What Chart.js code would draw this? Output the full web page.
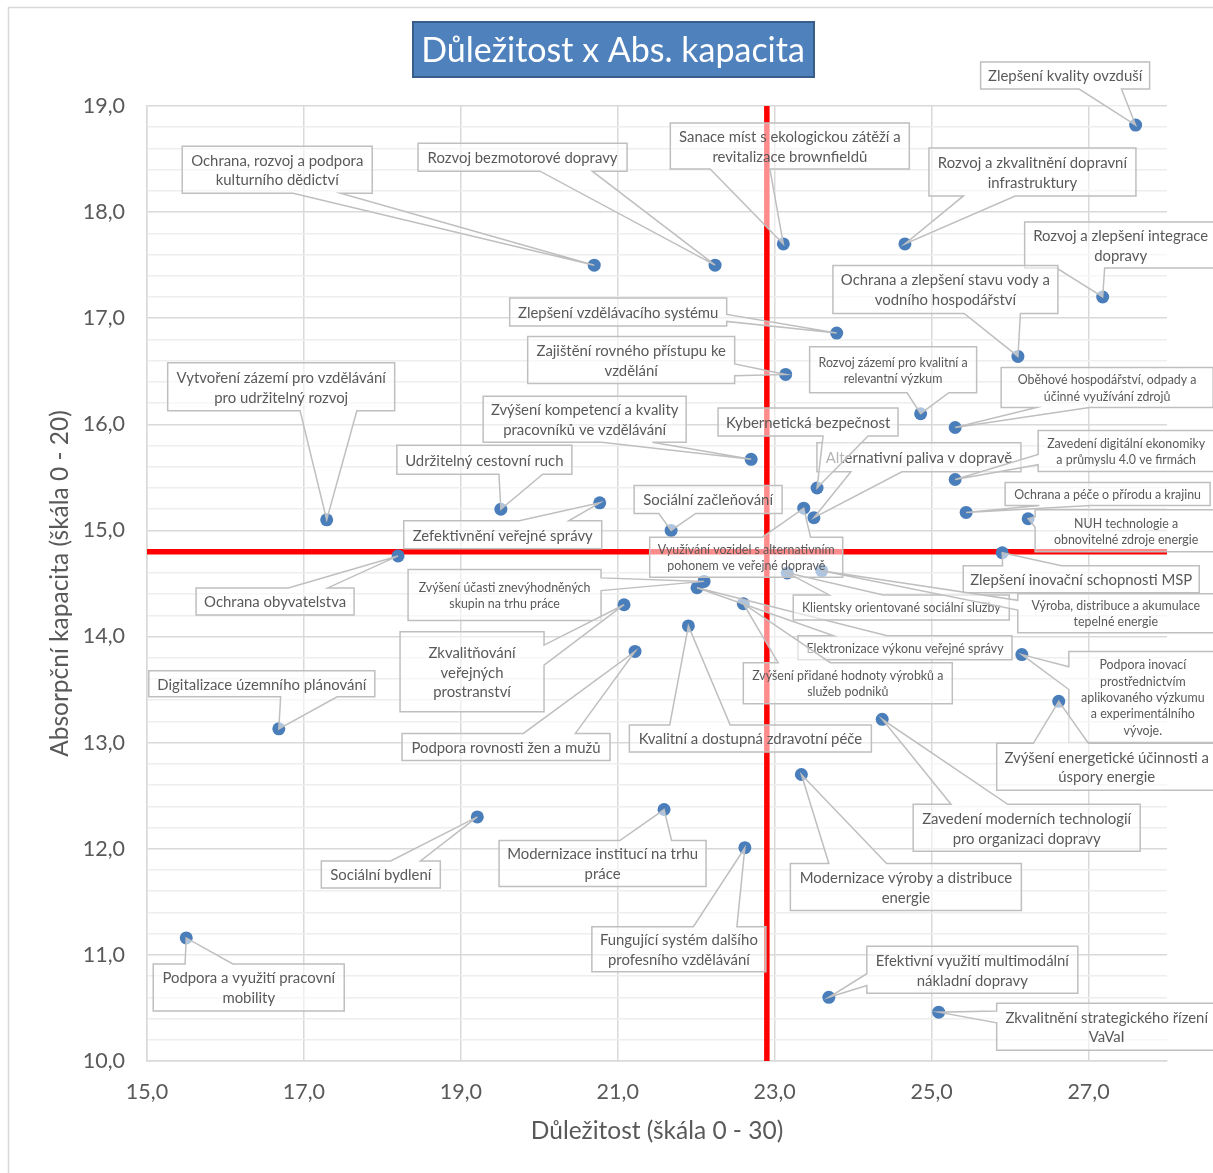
<!DOCTYPE html>
<html>
<head>
<meta charset="utf-8">
<script src="https://cdn.jsdelivr.net/npm/chart.js@4.4.1/dist/chart.umd.min.js"></script>
<style>
  html, body { margin: 0; padding: 0; background: #fff; }
  #wrap { width: 1213px; height: 1173px; }
</style>
</head>
<body>
<div id="wrap"><canvas id="chart" width="1213" height="1173"></canvas></div>
<script>
// priority topics (label text as shown in the callouts)
const topics = [
    'Zlepšení kvality ovzduší',
    'Sanace míst s ekologickou zátěží a\nrevitalizace brownfieldů',
    'Rozvoj a zkvalitnění dopravní\ninfrastruktury',
    'Ochrana, rozvoj a podpora\nkulturního dědictví',
    'Rozvoj bezmotorové dopravy',
    'Rozvoj a zlepšení integrace\ndopravy',
    'Zlepšení vzdělávacího systému',
    'Ochrana a zlepšení stavu vody a\nvodního hospodářství',
    'Zajištění rovného přístupu ke\nvzdělání',
    'Rozvoj zázemí pro kvalitní a\nrelevantní výzkum',
    'Oběhové hospodářství, odpady a\núčinné využívání zdrojů',
    'Vytvoření zázemí pro vzdělávání\npro udržitelný rozvoj',
    'Zvýšení kompetencí a kvality\npracovníků ve vzdělávání',
    'Alternativní paliva v dopravě',
    'Kybernetická bezpečnost',
    'Využívání vozidel s alternativním\npohonem ve veřejné dopravě',
    'Zavedení digitální ekonomiky\na průmyslu 4.0 ve firmách',
    'Ochrana a péče o přírodu a krajinu',
    'NUH technologie a\nobnovitelné zdroje energie',
    'Udržitelný cestovní ruch',
    'Zefektivnění veřejné správy',
    'Sociální začleňování',
    'Ochrana obyvatelstva',
    'Zlepšení inovační schopnosti MSP',
    'Zvýšení účasti znevýhodněných\nskupin na trhu práce',
    'Elektronizace výkonu veřejné správy',
    'Klientsky orientované sociální služby',
    'Výroba, distribuce a akumulace\ntepelné energie',
    'Zkvalitňování\nveřejných\nprostranství',
    'Zvýšení přidané hodnoty výrobků a\nslužeb podniků',
    'Kvalitní a dostupná zdravotní péče',
    'Podpora rovnosti žen a mužů',
    'Podpora inovací\nprostřednictvím\naplikovaného výzkumu\na experimentálního\nvývoje.',
    'Zvýšení energetické účinnosti a\núspory energie',
    'Digitalizace územního plánování',
    'Zavedení moderních technologií\npro organizaci dopravy',
    'Modernizace výroby a distribuce\nenergie',
    'Sociální bydlení',
    'Modernizace institucí na trhu\npráce',
    'Fungující systém dalšího\nprofesního vzdělávání',
    'Podpora a využití pracovní\nmobility',
    'Efektivní využití multimodální\nnákladní dopravy',
    'Zkvalitnění strategického řízení\nVaVaI'
];

// Důležitost (x)
const importance = [
    27.60, 23.11, 24.66, 20.70, 22.24, 27.18, 23.79, 26.10, 23.14, 24.86,
    25.30, 17.29, 22.70, 23.50, 23.54, 23.37, 25.30, 25.44, 26.23, 19.51,
    20.77, 21.68, 18.20, 25.90, 22.10, 22.01, 23.16, 23.60, 21.08, 22.60,
    21.90, 21.22, 26.15, 26.62, 16.68, 24.37, 23.34, 19.21, 21.59, 22.62,
    15.50, 23.69, 25.09
];

// Absorpční kapacita (y)
const capacity = [
    18.82, 17.70, 17.70, 17.50, 17.50, 17.20, 16.86, 16.64, 16.47, 16.10,
    15.97, 15.10, 15.67, 15.12, 15.40, 15.21, 15.48, 15.17, 15.11, 15.20,
    15.26, 15.00, 14.76, 14.79, 14.52, 14.46, 14.60, 14.62, 14.30, 14.31,
    14.10, 13.86, 13.83, 13.39, 13.13, 13.22, 12.70, 12.30, 12.37, 12.01,
    11.16, 10.60, 10.46
];

// red cross lines
const importanceSplit = 22.9;
const capacitySplit = 14.8;

const xMin = 15, xMax = 28, xStep = 2;
const yMin = 10, yMax = 19, yMinorStep = 0.2;

// callout boxes: offset of the box corner from its point, width, height (px)
const calloutBoxes = [
    [-155, -63, 169, 27], [-113, -121, 239, 46], [24, -96, 207, 48], [-412, -119, 190, 47],
    [-297, -122, 209, 28], [-78, -75, 192, 46], [-327, -35, 217, 28], [-185, -91, 225, 48],
    [-258, -38, 207, 47], [-111, -67, 167, 46], [46, -60, 212, 40], [-159, -157, 227, 48],
    [-268, -63, 203, 46], [3, -75, 204, 29], [-99, -80, 180, 28], [-154, 29, 193, 40],
    [83, -49, 176, 41], [39, -30, 205, 23], [7, -9, 182, 42], [-104, -64, 175, 29],
    [-196, 18, 198, 28], [-37, -45, 148, 28], [-202, 32, 158, 27], [-39, 13, 236, 27],
    [-296, -12, 193, 51], [101, 48, 214, 24], [6, 22, 216, 25], [196, 23, 196, 39],
    [-224, 27, 144, 80], [0, 59, 209, 41], [-59, 99, 242, 27], [-233, 82, 208, 27],
    [47, -3, 148, 91], [-62, 42, 220, 47], [-130, -58, 226, 26], [31, 85, 227, 47],
    [-11, 89, 231, 47], [-156, 44, 119, 27], [-165, 31, 207, 46], [-153, 79, 174, 45],
    [-33, 26, 191, 47], [38, -51, 211, 47], [58, -9, 220, 47]
];
const smallCallouts = [9, 10, 15, 16, 17, 18, 24, 25, 26, 27, 29, 32];

const FONT = 'Lato';
const TEXT_GREY = '#595959';

// Excel style "wedge rect callout" outline
function calloutPath(ctx, l, t, w, h, xt, yt) {
    const r = l + w, b = t + h;
    const dxPos = xt - (l + w / 2);
    const dyPos = yt - (t + h / 2);
    const side = Math.abs(dxPos * h / w) > Math.abs(dyPos);
    const x1 = l + w * (dxPos > 0 ? 7 : 2) / 12;
    const x2 = l + w * (dxPos > 0 ? 10 : 5) / 12;
    const y1 = t + h * (dyPos > 0 ? 7 : 2) / 12;
    const y2 = t + h * (dyPos > 0 ? 10 : 5) / 12;
    ctx.beginPath();
    ctx.moveTo(l, t);
    if (!side && dyPos < 0) { ctx.lineTo(x1, t); ctx.lineTo(xt, yt); ctx.lineTo(x2, t); }
    ctx.lineTo(r, t);
    if (side && dxPos > 0) { ctx.lineTo(r, y1); ctx.lineTo(xt, yt); ctx.lineTo(r, y2); }
    ctx.lineTo(r, b);
    if (!side && dyPos > 0) { ctx.lineTo(x2, b); ctx.lineTo(xt, yt); ctx.lineTo(x1, b); }
    ctx.lineTo(l, b);
    if (side && dxPos < 0) { ctx.lineTo(l, y2); ctx.lineTo(xt, yt); ctx.lineTo(l, y1); }
    ctx.closePath();
}

const calloutPlugin = {
    id: 'callouts',
    afterDatasetsDraw(chart) {
        const ctx = chart.ctx;
        const meta = chart.getDatasetMeta(0);
        ctx.save();
        meta.data.forEach((pt, i) => {
            const [dx, dy, w, h] = calloutBoxes[i];
            const l = pt.x + dx, t = pt.y + dy;
            calloutPath(ctx, l, t, w, h, pt.x, pt.y);
            ctx.fillStyle = 'rgba(255,255,255,0.55)';
            ctx.fill();
            ctx.strokeStyle = '#BFBFBF';
            ctx.lineWidth = 1.5;
            ctx.stroke();

            const small = smallCallouts.includes(i);
            const size = small ? 12.4 : 14.9;
            const lh = small ? 16.3 : 19.8;
            const lines = topics[i].split('\n');
            ctx.font = size + 'px ' + FONT;
            ctx.fillStyle = TEXT_GREY;
            ctx.textAlign = 'center';
            ctx.textBaseline = 'middle';
            const y0 = t + h / 2 + 1 - (lines.length - 1) * lh / 2;
            lines.forEach((s, k) => ctx.fillText(s, l + w / 2, y0 + k * lh));
        });
        ctx.restore();
    }
};

const framePlugin = {
    id: 'frame',
    beforeDraw(chart) {
        const ctx = chart.ctx;
        ctx.save();
        ctx.fillStyle = '#fff';
        ctx.fillRect(0, 0, chart.width, chart.height);
        ctx.strokeStyle = '#D9D9D9';
        ctx.lineWidth = 1.5;
        ctx.strokeRect(8.5, 7.5, 1400, 1400);
        ctx.restore();
    },
    afterDraw(chart) {
        const ctx = chart.ctx;
        ctx.save();
        ctx.fillStyle = '#4F81BD';
        ctx.strokeStyle = '#385D8A';
        ctx.lineWidth = 2;
        ctx.fillRect(413, 22, 401, 55);
        ctx.strokeRect(413, 22, 401, 55);
        ctx.fillStyle = '#fff';
        ctx.font = '34px ' + FONT;
        ctx.textAlign = 'center';
        ctx.textBaseline = 'middle';
        ctx.fillText('Důležitost x Abs. kapacita', 613, 51);
        ctx.restore();
    }
};

function fmt(v) {
    return v.toFixed(1).replace('.', ',');
}

function isWhole(v) {
    return Math.abs(v - Math.round(v)) < 1e-6;
}

function build() {
    if (window.__built) return;
    window.__built = true;

    const points = importance.map((x, i) => ({ x: x, y: capacity[i] }));

    new Chart(document.getElementById('chart'), {
        type: 'scatter',
        data: {
            datasets: [{
                data: points,
                backgroundColor: '#4A7EBB',
                borderWidth: 0,
                pointRadius: 6.5,
                order: 0
            }, {
                data: [{ x: importanceSplit, y: yMin }, { x: importanceSplit, y: yMax }],
                showLine: true,
                borderColor: '#FF0000',
                borderWidth: 5.5,
                pointRadius: 0,
                order: 1
            }, {
                data: [{ x: xMin, y: capacitySplit }, { x: xMax, y: capacitySplit }],
                showLine: true,
                borderColor: '#FF0000',
                borderWidth: 5.5,
                pointRadius: 0,
                order: 1
            }]
        },
        options: {
            responsive: false,
            devicePixelRatio: 1,
            animation: false,
            events: [],
            layout: { padding: { left: 8, top: 106, right: 46, bottom: 0 } },
            plugins: {
                legend: { display: false },
                tooltip: { enabled: false }
            },
            scales: {
                x: {
                    type: 'linear',
                    min: xMin,
                    max: xMax,
                    afterBuildTicks(scale) {
                        const t = [];
                        for (let v = xMin; v < xMax; v += xStep) t.push({ value: v });
                        scale.ticks = t;
                    },
                    afterFit(scale) { scale.height = 112; },
                    ticks: {
                        autoSkip: false,
                        maxRotation: 0,
                        padding: 18,
                        color: TEXT_GREY,
                        font: { family: FONT, size: 21.5 },
                        callback: v => fmt(v)
                    },
                    grid: { color: '#D9D9D9', lineWidth: 1.5, drawTicks: false },
                    border: { color: '#D9D9D9', width: 1.5 },
                    title: {
                        display: true,
                        text: 'Důležitost (škála 0 - 30)',
                        color: TEXT_GREY,
                        font: { family: FONT, size: 24.5 },
                        padding: { top: 0, bottom: 27 }
                    }
                },
                y: {
                    type: 'linear',
                    min: yMin,
                    max: yMax,
                    afterBuildTicks(scale) {
                        const t = [];
                        const n = Math.round((yMax - yMin) / yMinorStep);
                        for (let i = 0; i <= n; i++) t.push({ value: yMin + i * yMinorStep });
                        scale.ticks = t;
                    },
                    afterFit(scale) { scale.width = 139; },
                    ticks: {
                        autoSkip: false,
                        padding: 22,
                        color: TEXT_GREY,
                        font: { family: FONT, size: 21.5 },
                        callback: v => isWhole(v) ? fmt(v) : ''
                    },
                    grid: {
                        drawTicks: false,
                        lineWidth: 1.5,
                        color: c => (c.tick && isWhole(c.tick.value)) ? '#D9D9D9' : '#EEEEEE'
                    },
                    border: { color: '#D9D9D9', width: 1.5 },
                    title: {
                        display: true,
                        text: 'Absorpční kapacita (škála 0 - 20)',
                        color: TEXT_GREY,
                        font: { family: FONT, size: 24.5 },
                        padding: { top: 37, bottom: 0 }
                    }
                }
            }
        },
        plugins: [framePlugin, calloutPlugin]
    });
}

if (document.fonts && document.fonts.load) {
    Promise.all([
        document.fonts.load('15px Lato'),
        document.fonts.load('34px Lato')
    ]).then(build, build);
    setTimeout(build, 1500);
} else {
    build();
}
</script>
</body>
</html>
